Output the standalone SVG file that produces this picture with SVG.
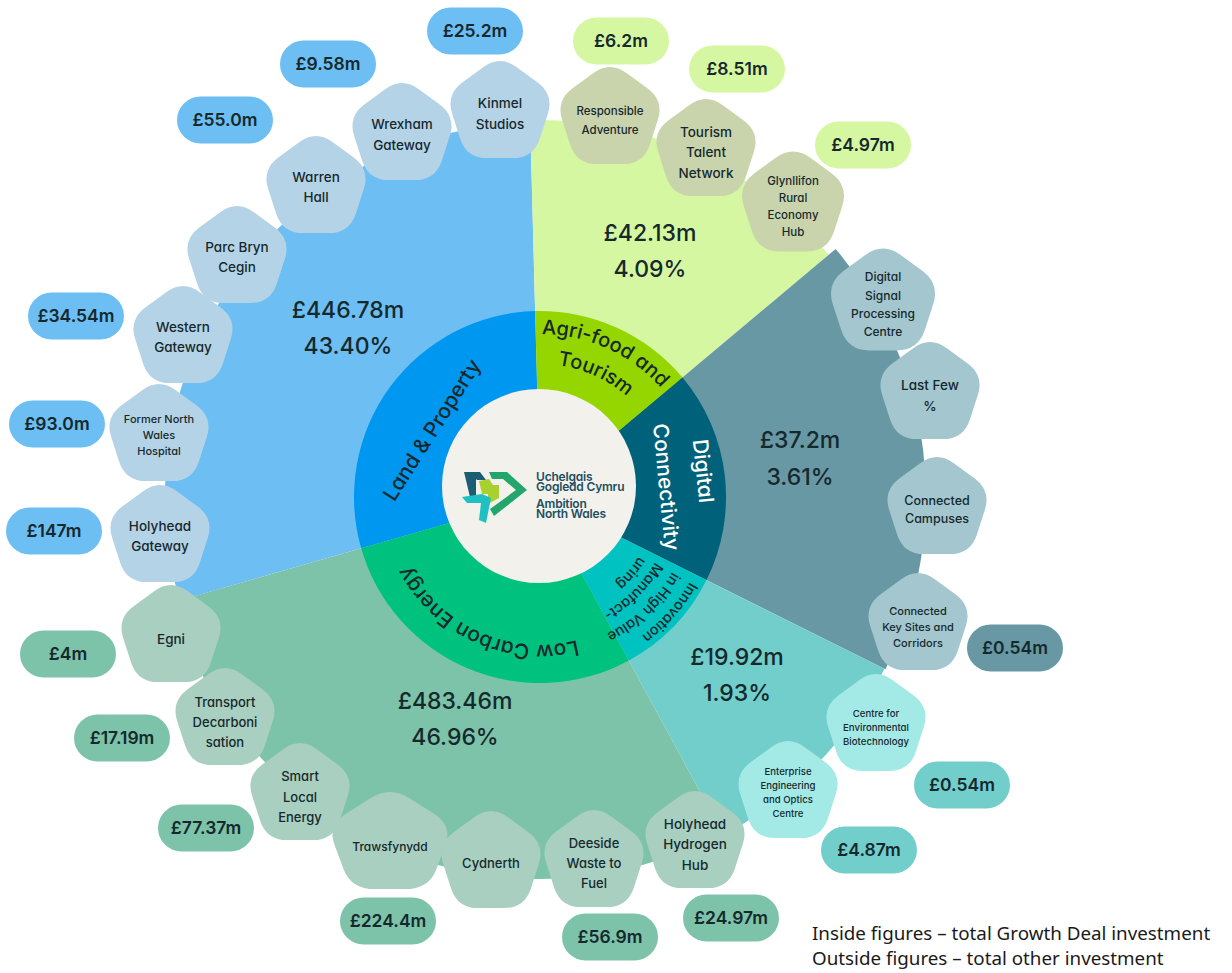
<svg xmlns="http://www.w3.org/2000/svg" width="1232" height="973" viewBox="0 0 1232 973">
<defs>
<path id="pent" d="M16.8,-44.8 L37.4,-29.8 Q54.2,-17.6 47.8,2.1 L39.9,26.4 Q33.5,46.1 12.8,46.1 L-12.8,46.1 Q-33.5,46.1 -39.9,26.4 L-47.8,2.1 Q-54.2,-17.6 -37.4,-29.8 L-16.8,-44.8 Q0,-57 16.8,-44.8 Z"/>
<path id="arcAgri1" d="M469.3,350.2 A163,163 0 0 1 696.9,452.8"/>
<path id="arcAgri2" d="M482.2,377.2 A133,133 0 0 1 668.0,460.9"/>
<path id="arcLow" d="M669.4,568.8 A148,148 0 0 1 400.1,448.8"/>
<path id="arcInn1" d="M689.7,581.7 A172,172 0 0 1 584.5,663.1"/>
<path id="arcInn2" d="M672.3,571.8 A152,152 0 0 1 579.3,643.8"/>
<path id="arcInn3" d="M655.0,562.0 A132,132 0 0 1 574.2,624.5"/>
<path id="arcInn4" d="M638.6,556.2 A115,115 0 0 1 569.8,608.1"/>
</defs>
<style>
text{font-family:Inter,"Liberation Sans",sans-serif;fill:#15292d;font-feature-settings:"cv11"}
.nt{text-anchor:middle;font-weight:500}
.pv{text-anchor:middle;font-size:17.5px;font-weight:600}
.big{text-anchor:middle;font-size:23px;font-weight:500}
.ring{font-size:21px;font-weight:500}
.agri{font-size:20px;font-weight:500}
.inn{font-size:14.5px;font-weight:500}
.lg{font-size:12px;font-weight:600;fill:#1d4e5f;letter-spacing:-0.2px}
.foot{font-family:"Noto Sans","Liberation Sans",sans-serif;font-size:18.8px;fill:#1a1a1a}
.nl{fill:#b5d3e6}.pl{fill:#6dbef2}
.na{fill:#c9d4ad}.pa{fill:#d6f7a1}
.nd{fill:#a3c6cf}.pd{fill:#6898a4}
.ni{fill:#a3eae7}.pi{fill:#72cecb}
.nc{fill:#a8cfbf}.pc{fill:#7cc3a9}
</style>
<rect width="1232" height="973" fill="#ffffff"/>

<g id="outer-sectors">
<path d="M540,497 L179.5,600.4 A375,375 0 0 1 530.2,122.1 Z" fill="#6dbef2"/>
<path d="M540,497 L530.1,120.1 A377,377 0 0 1 828.8,254.7 Z" fill="#d6f7a1"/>
<path d="M540,497 L835.7,248.9 A386,386 0 0 1 885.4,669.2 Z" fill="#6898a4"/>
<path d="M540,497 L884.5,668.8 A385,385 0 0 1 723.7,835.3 Z" fill="#72cecb"/>
<path d="M540,497 L722.3,832.7 A382,382 0 0 1 172.8,602.3 Z" fill="#7cc3a9"/>
</g>

<g id="ring">
<path d="M540,497 L361.2,548.3 A186,186 0 0 1 535.1,311.1 Z" fill="#0097f0"/>
<path d="M540,497 L535.1,311.1 A186,186 0 0 1 682.5,377.4 Z" fill="#96d600"/>
<path d="M540,497 L682.5,377.4 A186,186 0 0 1 706.5,580.0 Z" fill="#00627a"/>
<path d="M540,497 L706.5,580.0 A186,186 0 0 1 628.8,660.5 Z" fill="#00c2c0"/>
<path d="M540,497 L628.8,660.5 A186,186 0 0 1 361.2,548.3 Z" fill="#00c27f"/>
</g>

<g id="ring-labels">
<g transform="translate(432,430) rotate(-57.5)"><text class="ring" text-anchor="middle" x="0" y="7">Land &amp; Property</text></g>
<text class="agri"><textPath href="#arcAgri1" startOffset="50%" text-anchor="middle">Agri-food and</textPath></text>
<text class="agri"><textPath href="#arcAgri2" startOffset="50%" text-anchor="middle">Tourism</textPath></text>
<g transform="translate(703,471) rotate(84)"><text class="ring" text-anchor="middle" x="0" y="7" style="fill:#ffffff">Digital</text></g>
<g transform="translate(666,487) rotate(84.5)"><text class="ring" text-anchor="middle" x="0" y="7" style="fill:#ffffff">Connectivity</text></g>
<text class="ring"><textPath href="#arcLow" startOffset="50%" text-anchor="middle">Low Carbon Energy</textPath></text>
<text class="inn"><textPath href="#arcInn1">Innovation</textPath></text>
<text class="inn"><textPath href="#arcInn2">in High Value</textPath></text>
<text class="inn"><textPath href="#arcInn3">Manufact-</textPath></text>
<text class="inn"><textPath href="#arcInn4">uring</textPath></text>
</g>

<g id="centre">
<circle cx="539" cy="486" r="97" fill="#f3f1ec"/>
<path d="M464,472 L480,472 L486,480 L477,480 L476,479 L476,497 L470,497 Z" fill="#1b5e73"/>
<path d="M479,481 L489,479 L493,485 L499,485 L499,498 L488,504 L488,494 L482,494 Z" fill="#a8d02e"/>
<path d="M489,472 L507,472 L527,490 L494,516 L490,509 L516,490 L503,479 L492,479 Z" fill="#22a66b"/>
<path d="M462,497 L482,494 L491,498 L486,523 L479,520 L481,503 L467,503 Z" fill="#20c0c2"/>
<text class="lg" x="536" y="481">Uchelgais</text>
<text class="lg" x="536" y="491">Gogledd Cymru</text>
<text class="lg" x="536" y="508">Ambition</text>
<text class="lg" x="536" y="518">North Wales</text>
</g>

<g id="sector-values">
<text class="big" x="348" y="318">£446.78m</text>
<text class="big" x="348" y="354">43.40%</text>
<text class="big" x="650" y="241">£42.13m</text>
<text class="big" x="650" y="277">4.09%</text>
<text class="big" x="800" y="448">£37.2m</text>
<text class="big" x="800" y="485">3.61%</text>
<text class="big" x="737" y="665">£19.92m</text>
<text class="big" x="737" y="701">1.93%</text>
<text class="big" x="455" y="709">£483.46m</text>
<text class="big" x="455" y="745">46.96%</text>
</g>

<!-- Land & Property -->
<g id="n-kinmel"><use href="#pent" x="500" y="112" class="nl"/>
<text class="nt" font-size="13.5"><tspan x="500" y="108">Kinmel</tspan><tspan x="500" y="129">Studios</tspan></text>
<rect class="pl" x="427" y="7.5" width="96" height="47" rx="23.5"/><text class="pv" x="475" y="37">£25.2m</text></g>
<g id="n-wrexham"><use href="#pent" x="402" y="134" class="nl"/>
<text class="nt" font-size="13.5"><tspan x="402" y="129">Wrexham</tspan><tspan x="402" y="150">Gateway</tspan></text>
<rect class="pl" x="280" y="40.5" width="96" height="47" rx="23.5"/><text class="pv" x="328" y="70">£9.58m</text></g>
<g id="n-warren"><use href="#pent" x="316" y="187" class="nl"/>
<text class="nt" font-size="13.5"><tspan x="316" y="182">Warren</tspan><tspan x="316" y="202">Hall</tspan></text>
<rect class="pl" x="177" y="96.5" width="96" height="47" rx="23.5"/><text class="pv" x="225" y="126">£55.0m</text></g>
<g id="n-parc"><use href="#pent" x="237" y="257" class="nl"/>
<text class="nt" font-size="13.5"><tspan x="237" y="252">Parc Bryn</tspan><tspan x="237" y="272">Cegin</tspan></text></g>
<g id="n-western"><use href="#pent" x="183" y="337" class="nl"/>
<text class="nt" font-size="13.5"><tspan x="183" y="332">Western</tspan><tspan x="183" y="352">Gateway</tspan></text>
<rect class="pl" x="28" y="292.5" width="96" height="47" rx="23.5"/><text class="pv" x="76" y="322">£34.54m</text></g>
<g id="n-former"><use href="#pent" x="159" y="435" class="nl"/>
<text class="nt" font-size="11"><tspan x="159" y="423">Former North</tspan><tspan x="159" y="439">Wales</tspan><tspan x="159" y="455">Hospital</tspan></text>
<rect class="pl" x="9" y="400.5" width="96" height="47" rx="23.5"/><text class="pv" x="57" y="430">£93.0m</text></g>
<g id="n-holyheadgw"><use href="#pent" x="160" y="536" class="nl"/>
<text class="nt" font-size="13.5"><tspan x="160" y="531">Holyhead</tspan><tspan x="160" y="551">Gateway</tspan></text>
<rect class="pl" x="6" y="507.5" width="96" height="47" rx="23.5"/><text class="pv" x="54" y="537">£147m</text></g>

<!-- Agri-food and Tourism -->
<g id="n-responsible"><use href="#pent" x="610" y="118" class="na"/>
<text class="nt" font-size="11.5"><tspan x="610" y="115">Responsible</tspan><tspan x="610" y="134">Adventure</tspan></text>
<rect class="pa" x="573" y="17.5" width="96" height="47" rx="23.5"/><text class="pv" x="621" y="47">£6.2m</text></g>
<g id="n-tourism"><use href="#pent" x="706" y="150" class="na"/>
<text class="nt" font-size="13.5"><tspan x="706" y="137">Tourism</tspan><tspan x="706" y="157">Talent</tspan><tspan x="706" y="178">Network</tspan></text>
<rect class="pa" x="689" y="45.5" width="96" height="47" rx="23.5"/><text class="pv" x="737" y="75">£8.51m</text></g>
<g id="n-glynllifon"><use href="#pent" x="793" y="204" class="na" transform="translate(793,204) scale(1.03) translate(-793,-204)"/>
<text class="nt" font-size="11.5"><tspan x="793" y="185">Glynllifon</tspan><tspan x="793" y="202">Rural</tspan><tspan x="793" y="219">Economy</tspan><tspan x="793" y="236">Hub</tspan></text>
<rect class="pa" x="815" y="121.5" width="96" height="47" rx="23.5"/><text class="pv" x="863" y="151">£4.97m</text></g>

<!-- Digital Connectivity -->
<g id="n-dspc"><use href="#pent" x="883" y="302" class="nd" transform="translate(883,302) scale(1.05) translate(-883,-302)"/>
<text class="nt" font-size="12"><tspan x="883" y="281">Digital</tspan><tspan x="883" y="300">Signal</tspan><tspan x="883" y="318">Processing</tspan><tspan x="883" y="336">Centre</tspan></text></g>
<g id="n-lastfew"><use href="#pent" x="930" y="393" class="nd"/>
<text class="nt" font-size="13.5"><tspan x="930" y="390">Last Few</tspan><tspan x="930" y="411">%</tspan></text></g>
<g id="n-campuses"><use href="#pent" x="937" y="508" class="nd"/>
<text class="nt" font-size="12.5"><tspan x="937" y="505">Connected</tspan><tspan x="937" y="523">Campuses</tspan></text></g>
<g id="n-keysites"><use href="#pent" x="918" y="624" class="nd"/>
<text class="nt" font-size="11"><tspan x="918" y="615">Connected</tspan><tspan x="918" y="631">Key Sites and</tspan><tspan x="918" y="647">Corridors</tspan></text>
<rect class="pd" x="967" y="624.5" width="96" height="47" rx="23.5"/><text class="pv" x="1015" y="654">£0.54m</text></g>

<!-- Innovation in High Value Manufacturing -->
<g id="n-cfeb"><use href="#pent" x="876" y="725" class="ni"/>
<text class="nt" font-size="9.6"><tspan x="876" y="717">Centre for</tspan><tspan x="876" y="731">Environmental</tspan><tspan x="876" y="745">Biotechnology</tspan></text>
<rect class="pi" x="914" y="761.5" width="96" height="47" rx="23.5"/><text class="pv" x="962" y="791">£0.54m</text></g>
<g id="n-eeoc"><use href="#pent" x="788" y="792" class="ni"/>
<text class="nt" font-size="9.6"><tspan x="788" y="775">Enterprise</tspan><tspan x="788" y="789">Engineering</tspan><tspan x="788" y="803">and Optics</tspan><tspan x="788" y="817">Centre</tspan></text>
<rect class="pi" x="821" y="826.5" width="96" height="47" rx="23.5"/><text class="pv" x="869" y="856">£4.87m</text></g>

<!-- Low Carbon Energy -->
<g id="n-egni"><use href="#pent" x="171" y="636" class="nc"/>
<text class="nt" font-size="13.5"><tspan x="171" y="644">Egni</tspan></text>
<rect class="pc" x="20" y="630.5" width="96" height="47" rx="23.5"/><text class="pv" x="68" y="660">£4m</text></g>
<g id="n-transport"><use href="#pent" x="225" y="719" class="nc"/>
<text class="nt" font-size="13"><tspan x="225" y="707">Transport</tspan><tspan x="225" y="727">Decarboni</tspan><tspan x="225" y="747">sation</tspan></text>
<rect class="pc" x="74" y="714.5" width="96" height="47" rx="23.5"/><text class="pv" x="122" y="744">£17.19m</text></g>
<g id="n-smart"><use href="#pent" x="300" y="794" class="nc"/>
<text class="nt" font-size="13"><tspan x="300" y="781">Smart</tspan><tspan x="300" y="802">Local</tspan><tspan x="300" y="822">Energy</tspan></text>
<rect class="pc" x="158" y="804.5" width="96" height="47" rx="23.5"/><text class="pv" x="206" y="834">£77.37m</text></g>
<g id="n-trawsfynydd"><use href="#pent" class="nc" transform="translate(390,843) scale(1.16,1.0)"/>
<text class="nt" font-size="12"><tspan x="390" y="851">Trawsfynydd</tspan></text>
<rect class="pc" x="340" y="897.5" width="96" height="47" rx="23.5"/><text class="pv" x="388" y="927">£224.4m</text></g>
<g id="n-cydnerth"><use href="#pent" x="491" y="862" class="nc"/>
<text class="nt" font-size="13"><tspan x="491" y="868">Cydnerth</tspan></text></g>
<g id="n-deeside"><use href="#pent" x="594" y="861" class="nc"/>
<text class="nt" font-size="13"><tspan x="594" y="848">Deeside</tspan><tspan x="594" y="868">Waste to</tspan><tspan x="594" y="888">Fuel</tspan></text>
<rect class="pc" x="562" y="913.5" width="96" height="47" rx="23.5"/><text class="pv" x="610" y="943">£56.9m</text></g>
<g id="n-holyheadhyd"><use href="#pent" x="695" y="842" class="nc"/>
<text class="nt" font-size="13.5"><tspan x="695" y="829">Holyhead</tspan><tspan x="695" y="849">Hydrogen</tspan><tspan x="695" y="870">Hub</tspan></text>
<rect class="pc" x="683" y="894.5" width="96" height="47" rx="23.5"/><text class="pv" x="731" y="924">£24.97m</text></g>

<g id="connectors"></g>

<g id="legend">
<text class="foot" x="812" y="940">Inside figures – total Growth Deal investment</text>
<text class="foot" x="812" y="965">Outside figures – total other investment</text>
</g>
</svg>
